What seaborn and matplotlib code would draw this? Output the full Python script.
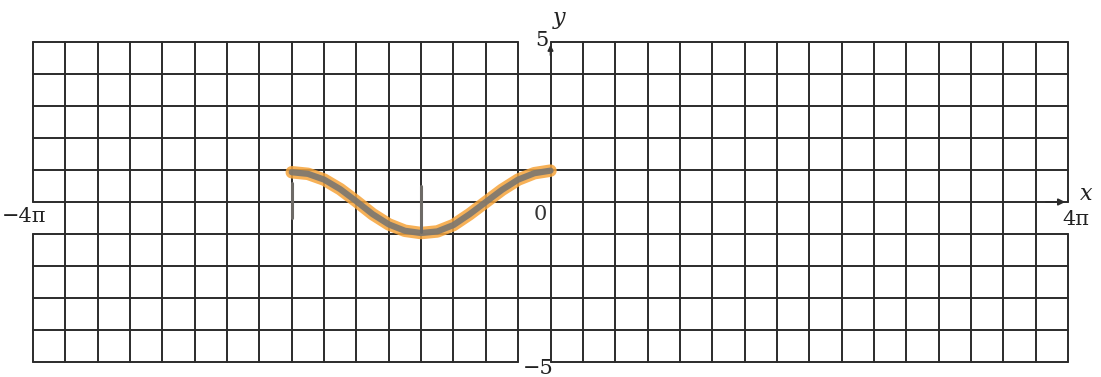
import numpy as np
import pandas as pd
import matplotlib
matplotlib.use("Agg")
import matplotlib.pyplot as plt
import seaborn as sns

# Curve values (x in units of pi)
x_pi = [-2.0, -1.875, -1.75, -1.625, -1.5, -1.375, -1.25, -1.125, -1.0,
        -0.875, -0.75, -0.625, -0.5, -0.375, -0.25, -0.125, 0.0]
y_vals = [0.93, 0.88, 0.70, 0.40, 0.02, -0.38, -0.70, -0.90, -0.97,
          -0.92, -0.72, -0.38, 0.00, 0.38, 0.70, 0.90, 0.98]

# hand-drawn marks on the curve (x in units of pi, y bottom, y top)
mark_x = [-2.0, -1.0]
mark_lo = [-0.5, -0.95]
mark_hi = [0.6, 0.5]

tick_labels = {"xmin": "\u22124\u03c0", "xmax": "4\u03c0", "ymax": "5", "ymin": "\u22125", "origin": "0"}

sns.set_theme(style="white")
plt.rcParams['font.family'] = ['DejaVu Serif', 'DejaVu Sans']

W, H = 1101, 377
fig = plt.figure(figsize=(W / 100, H / 100), dpi=100)
ax = fig.add_axes([0, 0, 1, 1])

X0, X1 = 33, 1068
pxu = (X1 - X0) / (8 * np.pi)
ax.set_xlim(-4 * np.pi - X0 / pxu, 4 * np.pi + (W - X1) / pxu)
ax.set_ylim(-5 - (H - 362) / 32.0, 5 + 42 / 32.0)
ax.axis("off")

gc = "#2b2b2b"
lw = 1.4
step = np.pi / 4
xs = np.arange(-16, 17) * step
ys = np.arange(-5, 6)

# vertical lines
for i, xv in enumerate(xs):
    if i == 0 or i == len(xs) - 1:
        ax.plot([xv, xv], [0, 5], color=gc, lw=lw)
        ax.plot([xv, xv], [-5, -1], color=gc, lw=lw)
    else:
        ax.plot([xv, xv], [-5, 5], color=gc, lw=lw)
# horizontal lines
for yv in ys:
    if abs(yv) == 5:
        ax.plot([-4 * np.pi, -step], [yv, yv], color=gc, lw=lw)
        ax.plot([0, 4 * np.pi], [yv, yv], color=gc, lw=lw)
    else:
        ax.plot([-4 * np.pi, 4 * np.pi], [yv, yv], color=gc, lw=lw)

# axes arrows
ax.annotate("", xy=(4 * np.pi, 0), xytext=(4 * np.pi - 0.6, 0),
            arrowprops=dict(arrowstyle="-|>", color=gc, lw=1.2, mutation_scale=10))
ax.annotate("", xy=(0, 5), xytext=(0, 4.5),
            arrowprops=dict(arrowstyle="-|>", color=gc, lw=1.2, mutation_scale=8))

# curve
df = pd.DataFrame({"x": np.array(x_pi) * np.pi, "y": y_vals})
sns.lineplot(data=df, x="x", y="y", ax=ax, color="#f6a43a", lw=9, alpha=0.85,
             solid_capstyle="round", legend=False)
sns.lineplot(data=df, x="x", y="y", ax=ax, color="#7b7770", lw=4.5, alpha=0.9,
             solid_capstyle="round", legend=False)
for mx, lo, hi in zip(mark_x, mark_lo, mark_hi):
    ax.plot([mx * np.pi, mx * np.pi], [lo, hi], color="#6d6a66", lw=2.2)
ax.set_xlabel("")
ax.set_ylabel("")

fs = 15
ax.text(-4 * np.pi - 0.75, -0.45, tick_labels["xmin"], fontsize=fs, ha="left", va="center", color="#222")
ax.text(4 * np.pi + 0.2, -0.55, tick_labels["xmax"], fontsize=fs, ha="center", va="center", color="#222")
ax.text(4 * np.pi + 0.45, 0.25, "x", fontsize=fs + 1, style="italic", ha="center", va="center", color="#222")
ax.text(-0.2, 5.05, tick_labels["ymax"], fontsize=fs, ha="center", va="center", color="#222")
ax.text(-0.3, -5.2, tick_labels["ymin"], fontsize=fs, ha="center", va="center", color="#222")
ax.text(0.2, 5.75, "y", fontsize=fs + 1, style="italic", ha="center", va="center", color="#222")
ax.text(-0.25, -0.4, tick_labels["origin"], fontsize=fs, ha="center", va="center", color="#333")

fig.savefig("out.png", dpi=100, facecolor="white")
